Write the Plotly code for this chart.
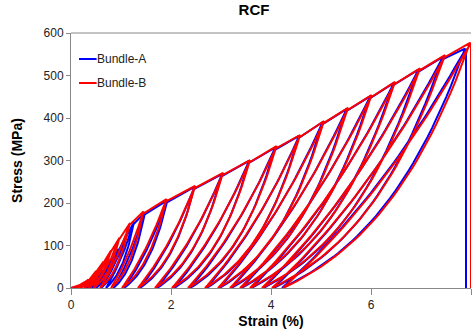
import numpy as np
import plotly.graph_objects as go

# ---------------- data ----------------
# Bundle-B (red): peak strain (%), peak stress (MPa), residual strain after unloading (%)
b_peak_strain = [0.35, 0.5, 0.65, 0.8, 0.97, 1.18, 1.45, 1.91, 2.48, 3.04, 3.58, 4.11,
                 4.58, 5.06, 5.54, 6.01, 6.48, 6.98, 7.48, 7.98]
b_peak_stress = [20, 40, 62, 88, 118, 153, 180, 209, 240, 271, 301, 334,
                 360, 393, 424, 454, 485, 517, 548, 577]
b_residual = [0.1, 0.18, 0.26, 0.35, 0.45, 0.58, 0.8, 1.02, 1.34, 1.68, 2.02, 2.34,
              2.68, 2.94, 3.18, 3.38, 3.58, 3.82, 4.02, 4.24]
b_failure_strain = 8.0

# Bundle-A (blue)
a_peak_strain = [0.5, 0.65, 0.8, 0.95, 1.1, 1.26, 1.48, 1.93, 2.47, 3.02, 3.56, 4.08,
                 4.56, 5.03, 5.51, 5.98, 6.45, 6.94, 7.43, 7.88]
a_peak_stress = [20, 42, 65, 92, 122, 155, 178, 207, 238, 268, 299, 330,
                 358, 390, 421, 451, 482, 513, 543, 563]
a_residual = [0.28, 0.35, 0.42, 0.5, 0.6, 0.7, 0.85, 1.06, 1.38, 1.72, 2.06, 2.38,
              2.71, 2.97, 3.21, 3.41, 3.61, 3.85, 4.05, 4.22]
a_failure_strain = 7.9

series_names = ["Bundle-A", "Bundle-B"]
series_colors = ["#0000FF", "#FF0000"]
x_ticks = [0, 2, 4, 6, 8]
y_ticks = [0, 100, 200, 300, 400, 500, 600]

# ---------------- curve construction ----------------
B_UNLOAD = 1.8
B_RELOAD = 0.7
B_VIRGIN = 1.2


def exp_curve(x0, y0, x1, y1, b, n=40):
    t = np.linspace(0.0, 1.0, n)
    x = x0 + (x1 - x0) * t
    y = y0 + (y1 - y0) * (np.exp(b * t) - 1.0) / (np.exp(b) - 1.0)
    return list(x), list(y)


def build_path(ps, ss, rs, fail):
    xs, ys = [], []
    x, y = exp_curve(0.0, 0.0, ps[0], ss[0], B_VIRGIN)
    xs += x; ys += y
    n = len(ps)
    for k in range(n):
        # unloading from the peak down to the residual strain
        xu, yu = exp_curve(rs[k], 0.0, ps[k], ss[k], B_UNLOAD)
        xs += xu[::-1]; ys += yu[::-1]
        # reloading back up to just below the previous peak
        qx, qy = ps[k] - 0.02, ss[k] - 6
        xl, yl = exp_curve(rs[k], 0.0, qx, qy, B_RELOAD)
        xs += xl; ys += yl
        if k < n - 1:
            xs.append(ps[k + 1]); ys.append(ss[k + 1])
        else:
            xs += [fail, fail]; ys += [ss[k], 0.0]
    return xs, ys


paths = [
    build_path(a_peak_strain, a_peak_stress, a_residual, a_failure_strain),
    build_path(b_peak_strain, b_peak_stress, b_residual, b_failure_strain),
]

FONT = "Arial, Liberation Sans, sans-serif"

fig = go.Figure()
for (px, py), name, col in zip(paths, series_names, series_colors):
    fig.add_trace(go.Scatter(x=px, y=py, mode="lines", name=name,
                             line=dict(color=col, width=2), showlegend=False))

# legend drawn in the top-left corner of the plot area (line sample + label)
leg_y = [0.898, 0.804]
for name, col, yy in zip(series_names, series_colors, leg_y):
    fig.add_shape(type="line", xref="paper", yref="paper", x0=0.02, x1=0.064,
                  y0=yy, y1=yy, line=dict(color=col, width=2))
    fig.add_annotation(text=name, xref="paper", yref="paper", x=0.064, y=yy,
                       xanchor="left", yanchor="middle", showarrow=False, xshift=-2,
                       font=dict(size=12, color="#222222"))

fig.update_layout(
    width=472, height=333,
    margin=dict(l=71, r=1, t=33, b=45),
    paper_bgcolor="white", plot_bgcolor="white",
    font=dict(family=FONT, size=12, color="#222222"),
    title=dict(text="<b>RCF</b>", x=0.4575, xref="paper", xanchor="center",
               y=0.97, yanchor="middle", font=dict(size=15, color="#000000")),
    showlegend=False,
)
fig.update_xaxes(range=[0, 8], tickvals=x_ticks, ticktext=[str(v) for v in x_ticks],
                 showgrid=False, zeroline=False, showline=True, linecolor="#888888",
                 linewidth=1, ticks="outside", ticklen=6, tickcolor="#888888",
                 tickfont=dict(size=12, color="#222222"),
                 title=dict(text="<b>Strain (%)</b>", font=dict(size=14, color="#000000"),
                            standoff=4))
fig.update_yaxes(range=[0, 600], tickvals=y_ticks, ticktext=[str(v) for v in y_ticks],
                 showgrid=False, zeroline=False, showline=True, linecolor="#888888",
                 linewidth=1, ticks="outside", ticklen=4, tickcolor="#888888",
                 tickfont=dict(size=12, color="#222222"),
                 title=dict(text="<b>Stress (MPa)</b>", font=dict(size=14, color="#000000"),
                            standoff=17))
# top border of plot area
fig.add_shape(type="line", xref="paper", yref="paper", x0=0, x1=1, y0=1, y1=1,
              line=dict(color="#888888", width=1))

fig.write_html("out.html")
